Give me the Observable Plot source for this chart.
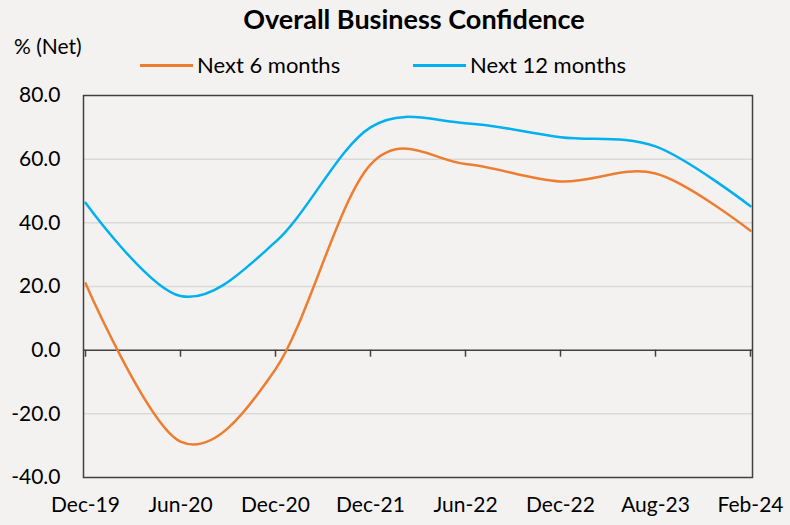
<!DOCTYPE html>
<html><head><meta charset="utf-8">
<script src="https://cdn.jsdelivr.net/npm/d3@7"></script>
<script src="https://cdn.jsdelivr.net/npm/@observablehq/plot@0.6"></script>
<style>
body{margin:0;background:#f4f2f0;font-family:Lato,sans-serif;}
#wrap{position:relative;width:790px;height:525px;overflow:hidden;}
#hdr{position:relative;height:80px;}
.title{position:absolute;left:0;width:828px;top:2px;text-align:center;font-weight:700;font-size:27px;color:#000;}
.unit{position:absolute;left:14px;top:33px;font-size:21px;color:#000;}
.leg{position:absolute;top:51px;font-size:22px;color:#000;}
.sw{position:absolute;top:64px;height:2.5px;width:53px;}
</style></head>
<body>
<div id="wrap">
  <div id="hdr">
    <div class="title">Overall Business Confidence</div>
    <div class="unit">% (Net)</div>
    <div class="sw" id="sw1" style="left:140px"></div>
    <div class="leg" id="lg1" style="left:197px"></div>
    <div class="sw" id="sw2" style="left:413px"></div>
    <div class="leg" id="lg2" style="left:470px"></div>
  </div>
  <div id="chart"></div>
</div>
<script>
const categories = ["Dec-19","Jun-20","Dec-20","Dec-21","Jun-22","Dec-22","Aug-23","Feb-24"];
const seriesNames = ["Next 6 months","Next 12 months"];
const next6 = [21, -28.7, -6, 58.3, 58.5, 53, 55.5, 37.5];
const next12 = [46.3, 17, 34, 70, 71.3, 66.9, 64, 45.2];
const yTicks = [-40, -20, 0, 20, 40, 60, 80];
const colors = ["#ED7D31", "#00B0F0"];

document.getElementById("sw1").style.background = colors[0];
document.getElementById("sw2").style.background = colors[1];
document.getElementById("lg1").textContent = seriesNames[0];
document.getElementById("lg2").textContent = seriesNames[1];

const rows6 = categories.map((c, i) => ({cat: c, value: next6[i]}));
const rows12 = categories.map((c, i) => ({cat: c, value: next12[i]}));

const chart = Plot.plot({
  width: 790, height: 445,
  marginTop: 15, marginBottom: 48, marginLeft: 83, marginRight: 38,
  style: {background: "transparent", fontFamily: "Lato, sans-serif", fontSize: "21px", color: "#000"},
  x: {type: "point", domain: categories, padding: 0, label: null},
  y: {domain: [yTicks[0], yTicks[yTicks.length - 1]], label: null},
  marks: [
    Plot.ruleY(yTicks.filter(d => d !== 0 && d !== yTicks[0] && d !== yTicks[yTicks.length - 1]), {stroke: "#d9d9d9", strokeWidth: 1.5}),
    Plot.ruleY([0], {stroke: "#404040", strokeWidth: 1.5}),
    Plot.ruleX(categories, {x: d => d, y1: 0, y2: 0, insetBottom: -7, stroke: "#404040", strokeWidth: 1.5}),
    Plot.frame({stroke: "#404040", strokeWidth: 1.5}),
    Plot.line(rows6, {x: "cat", y: "value", curve: "cardinal", tension: 0, stroke: colors[0], strokeWidth: 2.5}),
    Plot.line(rows12, {x: "cat", y: "value", curve: "cardinal", tension: 0, stroke: colors[1], strokeWidth: 2.5}),
    Plot.axisY({ticks: yTicks, tickSize: 0, tickPadding: 23, tickFormat: d => d.toFixed(1), label: null}),
    Plot.axisX({tickSize: 0, tickPadding: 20, label: null})
  ]
});
document.getElementById("chart").appendChild(chart);
</script>
</body></html>
